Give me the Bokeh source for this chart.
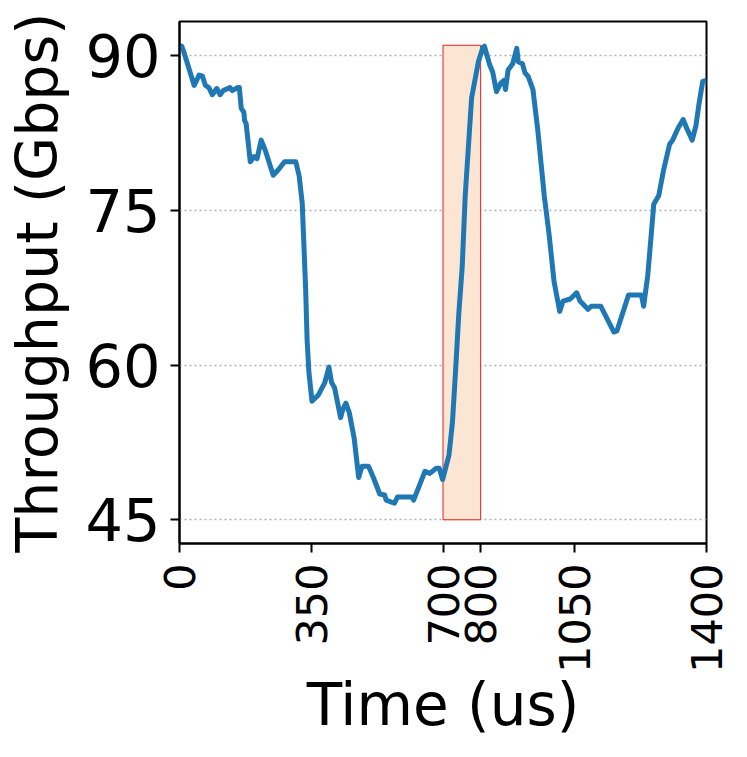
import math
from bokeh.plotting import figure
from bokeh.models import FixedTicker, Range1d
from bokeh.embed import file_html
from bokeh.resources import INLINE

time_us = [0, 6, 12, 39, 52, 61, 69, 78, 87, 99, 108, 116, 134, 140, 155, 159, 164, 171, 173, 177,
           188, 198, 206, 217, 228, 249, 262, 279, 309, 318, 326, 335, 339, 344, 352, 369, 386, 397,
           404, 412, 428, 434, 442, 451, 464, 476, 485, 502, 515, 532, 545, 549, 571, 579, 618, 622,
           652, 665, 682, 690, 699, 716, 725, 733, 742, 751, 759, 776, 794, 806, 810, 824, 832, 842,
           853, 862, 866, 873, 885, 896, 900, 911, 918, 926, 939, 952, 969, 982, 995, 1010, 1019,
           1038, 1055, 1064, 1085, 1094, 1119, 1154, 1162, 1193, 1227, 1233, 1244, 1260, 1273, 1286,
           1302, 1310, 1325, 1338, 1348, 1362, 1372, 1380, 1390, 1400]
throughput = [90.6, 90.9, 90.3, 87.1, 88.1, 88.0, 87.1, 86.9, 86.2, 86.8, 86.2, 86.6, 86.9, 86.6, 86.9,
              86.9, 84.9, 84.5, 83.7, 83.4, 79.7, 80.2, 80.0, 81.8, 80.8, 78.4, 78.9, 79.7, 79.7, 78.3,
              75.7, 67.5, 62.4, 59.2, 56.5, 57.1, 58.3, 59.8, 58.3, 57.8, 54.9, 55.7, 56.3, 55.4, 52.9,
              49.1, 50.2, 50.2, 49.1, 47.5, 47.4, 46.9, 46.6, 47.2, 47.2, 46.9, 49.7, 49.5, 50.0, 50.0,
              48.9, 51.3, 54.4, 59.2, 65.0, 69.5, 76.4, 85.9, 89.4, 90.8, 90.9, 89.1, 88.4, 86.5, 87.3,
              87.6, 86.7, 88.6, 89.2, 90.7, 89.4, 89.2, 88.3, 88.0, 86.7, 82.7, 76.4, 72.6, 68.1, 65.2,
              66.2, 66.4, 67.0, 66.2, 65.4, 65.7, 65.7, 63.2, 63.3, 66.8, 66.8, 65.7, 68.7, 75.6, 76.4,
              78.9, 81.4, 81.8, 83.0, 83.8, 82.9, 81.8, 83.2, 85.3, 87.5, 87.6]

x_ticks = [0, 350, 700, 800, 1050, 1400]
y_ticks = [45, 60, 75, 90]
span_left = [700]
span_right = [800]
span_bottom = [45]
span_top = [91]

FONT = "DejaVu Sans"

p = figure(width=731, height=741, output_backend="svg", toolbar_location=None,
           x_range=Range1d(0, 1400), y_range=Range1d(42.7, 93.3),
           min_border_left=179, min_border_right=25, min_border_top=21, min_border_bottom=190)

p.quad(left=span_left, right=span_right, bottom=span_bottom, top=span_top,
       fill_color="#fde5d3", line_color="#e02020", line_width=1)
p.line(time_us, throughput, line_color="#1f77b4", line_width=5, line_join="round")

p.outline_line_color = "black"
p.outline_line_width = 2
p.background_fill_color = "white"
p.border_fill_color = "white"

p.xgrid.visible = False
p.ygrid.grid_line_color = "#b0b0b0"
p.ygrid.grid_line_dash = "2 3"
p.ygrid.grid_line_width = 1.5
p.ygrid.ticker = FixedTicker(ticks=y_ticks)

p.xaxis.ticker = FixedTicker(ticks=x_ticks)
p.yaxis.ticker = FixedTicker(ticks=y_ticks)

for ax in (p.xaxis[0], p.yaxis[0]):
    ax.axis_line_color = "black"
    ax.axis_line_width = 2
    ax.major_tick_line_color = "black"
    ax.major_tick_line_width = 2
    ax.major_tick_out = 9
    ax.major_tick_in = 0
    ax.minor_tick_line_color = None
    ax.major_label_text_font = FONT
    ax.major_label_text_color = "black"
    ax.axis_label_text_font = FONT
    ax.axis_label_text_font_style = "normal"
    ax.axis_label_text_color = "black"

p.xaxis.major_label_text_font_size = "43px"
p.xaxis.major_label_orientation = math.pi / 2
p.xaxis.major_label_standoff = 11
p.xaxis.axis_label = "Time (us)"
p.xaxis.axis_label_text_font_size = "58px"
p.xaxis.axis_label_standoff = -5

p.yaxis.major_label_text_font_size = "59px"
p.yaxis.major_label_standoff = 10
p.yaxis.axis_label = "Throughput (Gbps)"
p.yaxis.axis_label_text_font_size = "57px"
p.yaxis.axis_label_standoff = 12

open("out.html", "w").write(file_html(p, INLINE))
